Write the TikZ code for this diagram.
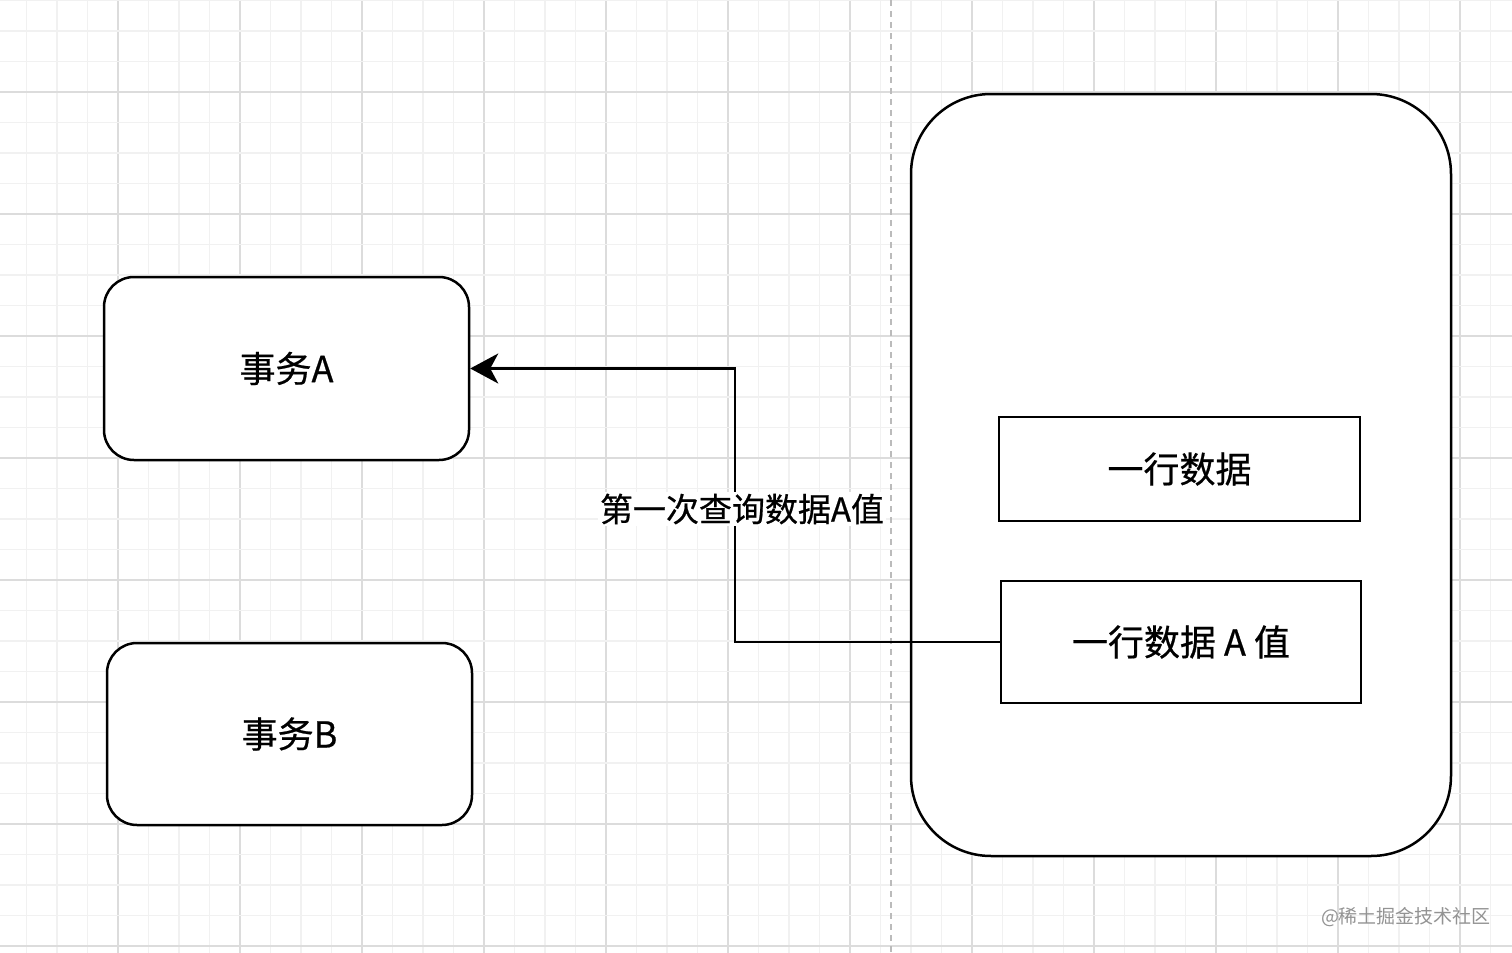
\documentclass[tikz,border=0pt]{standalone}
\usepackage{fontspec}
\setmainfont{Noto Sans CJK SC}[FakeBold=0.6]
\newfontfamily\wmfont{Noto Sans CJK SC}
\usetikzlibrary{arrows.meta}
\definecolor{gridminor}{HTML}{F1F1F1}
\definecolor{gridmajor}{HTML}{DCDCDC}
\definecolor{dashgray}{HTML}{BBBBBB}
\definecolor{wmgray}{HTML}{939393}
\tikzset{
  roundbox/.style={draw=black, line width=1.25pt, rounded corners=15pt, fill=white, font=\fontsize{18}{20}\selectfont},
  rowbox/.style={draw=black, line width=1.25pt, fill=white, font=\fontsize{18}{20}\selectfont},
  conn/.style={draw=black, line width=1.1pt, -{Stealth[length=14pt, width=15pt, inset=4pt]}},
  lbl/.style={fill=white, inner sep=1pt, font=\fontsize{16.5}{18}\selectfont}
}
\begin{document}
\begin{tikzpicture}[x=0.5pt, y=-0.5pt]
\useasboundingbox (0,0) rectangle (1512,953);
\fill[white] (0,0) rectangle (1512,953);
% grid
\foreach \i in {0,...,48} {
  \pgfmathtruncatemacro{\m}{mod(\i,4)}
  \ifnum\m=3
    \draw[gridmajor, line width=0.6pt] ({26.5+30.5*\i},0) -- ({26.5+30.5*\i},953);
  \else
    \draw[gridminor, line width=0.6pt] ({26.5+30.5*\i},0) -- ({26.5+30.5*\i},953);
  \fi
}
\foreach \j in {0,...,31} {
  \pgfmathtruncatemacro{\m}{mod(\j,4)}
  \ifnum\m=3
    \draw[gridmajor, line width=0.6pt] (0,{0.5+30.5*\j}) -- (1512,{0.5+30.5*\j});
  \else
    \draw[gridminor, line width=0.6pt] (0,{0.5+30.5*\j}) -- (1512,{0.5+30.5*\j});
  \fi
}
% dashed separator
\draw[dashgray, line width=0.7pt, dash pattern=on 3pt off 2.5pt] (891,0) -- (891,953);

% nodes
\node[roundbox, minimum width=182.5pt, minimum height=91.5pt] (ta) at (286.5,368.5) {\raisebox{-1pt}{事务A}};
\node[roundbox, minimum width=182.5pt, minimum height=91pt] (tb) at (289.5,734) {\raisebox{-1pt}{事务B}};
\node[draw=black, line width=1.25pt, rounded corners=40pt, fill=white, minimum width=270pt, minimum height=381pt] (db) at (1181,475) {};
\node[rowbox, minimum width=180.5pt, minimum height=52pt] (r1) at (1179.5,469) {\raisebox{-1pt}{一行数据}};
\node[rowbox, minimum width=180pt, minimum height=61pt] (r2) at (1181,642) {\raisebox{-1.5pt}{一行数据 A 值}};

% connector
\coordinate (bend) at (735,500);
\draw[conn] (r2.west) -- (r2.west -| bend) -- (bend |- ta.east) -- (ta.east);
\node[lbl] (lab) at (742,509) {第一次查询数据A值};

% watermark
\node[text=wmgray, font=\wmfont\fontsize{9.5}{11}\selectfont, inner sep=0pt] (wm) at (1406,917) {@稀土掘金技术社区};
\end{tikzpicture}
\end{document}
